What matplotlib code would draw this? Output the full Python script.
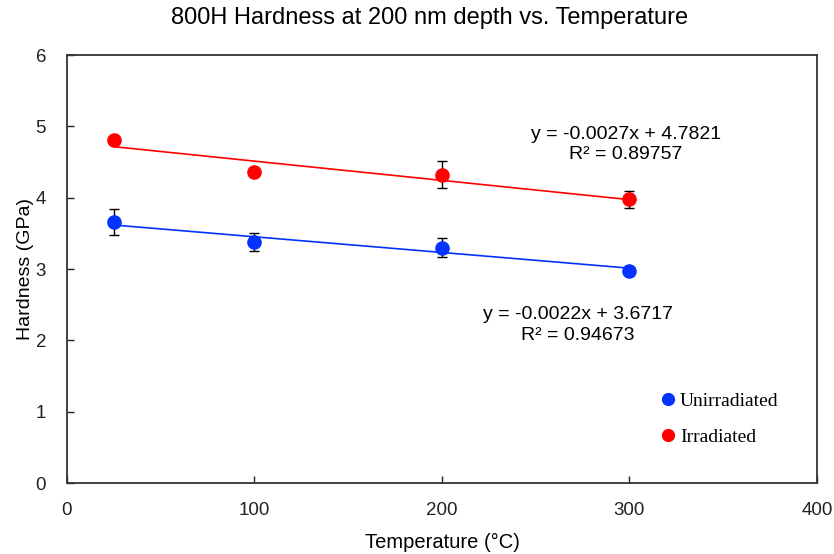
import matplotlib
matplotlib.use("Agg")
import matplotlib.pyplot as plt
from matplotlib.lines import Line2D
import numpy as np

plt.rcParams['font.family'] = ['Liberation Sans', 'DejaVu Sans']

# Measurement temperatures (°C)
temps = [25, 100, 200, 300]

# Hardness at 200 nm depth (GPa) and standard deviations
unirr_hardness = [3.66, 3.38, 3.30, 2.97]
unirr_err = [0.18, 0.125, 0.135, 0.05]
irr_hardness = [4.81, 4.36, 4.32, 3.98]
irr_err = [0.03, 0.05, 0.19, 0.12]

# Linear trendline coefficients (slope, intercept) and R²
unirr_fit = (-0.0022, 3.6717, 0.94673)
irr_fit = (-0.0027, 4.7821, 0.89757)

x_ticks = [0, 100, 200, 300, 400]
y_ticks = [0, 1, 2, 3, 4, 5, 6]

fig = plt.figure(figsize=(8.34, 5.54), dpi=100)
ax = fig.add_axes([67 / 834, 1 - 483 / 554, (817 - 67) / 834, (483 - 55) / 554])

blue = '#0433ff'
red = '#ff0000'

# Trendlines over the measured range
xs = np.array([min(temps), max(temps)])
ax.plot(xs, unirr_fit[0] * xs + unirr_fit[1], color=blue, lw=1.2, zorder=2)
ax.plot(xs, irr_fit[0] * xs + irr_fit[1], color=red, lw=1.2, zorder=2)

# Data with error bars
ax.errorbar(temps, unirr_hardness, yerr=unirr_err, fmt='o', color=blue, ms=9.5,
            ecolor='black', elinewidth=1.0, capsize=3.5, capthick=1.0, zorder=3)
ax.errorbar(temps, irr_hardness, yerr=irr_err, fmt='o', color=red, ms=9.5,
            ecolor='black', elinewidth=1.0, capsize=3.5, capthick=1.0, zorder=3)

# Trendline equations
eq_size = 14
ax.text(298, 4.89, f"y = {irr_fit[0]:.4f}x + {irr_fit[1]:.4f}", ha='center', va='center', fontsize=eq_size)
ax.text(298, 4.60, f"R² = {irr_fit[2]:.5f}", ha='center', va='center', fontsize=eq_size)
ax.text(272.5, 2.36, f"y = {unirr_fit[0]:.4f}x + {unirr_fit[1]:.4f}", ha='center', va='center', fontsize=eq_size)
ax.text(272.5, 2.07, f"R² = {unirr_fit[2]:.5f}", ha='center', va='center', fontsize=eq_size)

ax.set_xlim(0, 400)
ax.set_ylim(0, 6)
ax.set_xticks(x_ticks)
ax.set_yticks(y_ticks)
ax.tick_params(direction='in', length=5, width=1.0, labelsize=13.5, colors='#222222')
ax.tick_params(axis='x', pad=14)
ax.tick_params(axis='y', pad=15)
for s in ax.spines.values():
    s.set_linewidth(1.3)
    s.set_color('#333333')

ax.set_xlabel('Temperature (°C)', fontsize=14.5, labelpad=10)
ax.set_ylabel('Hardness (GPa)', fontsize=14, labelpad=1.5)
fig.suptitle('800H Hardness at 200 nm depth vs. Temperature', x=430 / 834, y=1 - 18 / 554,
             va='center', fontsize=17)

# Legend
handles = [Line2D([], [], marker='o', ls='', color=blue, ms=8.5),
           Line2D([], [], marker='o', ls='', color=red, ms=8.5)]
leg = ax.legend(handles, ['Unirradiated', 'Irradiated'], loc='upper left',
                bbox_to_anchor=((641 - 67) / 750, 1 - (375 - 55) / 428),
                frameon=False, handletextpad=0.1, labelspacing=0.95,
                prop={'family': 'Liberation Serif', 'size': 14}, handlelength=1.0)

fig.savefig('out.png', dpi=100)
